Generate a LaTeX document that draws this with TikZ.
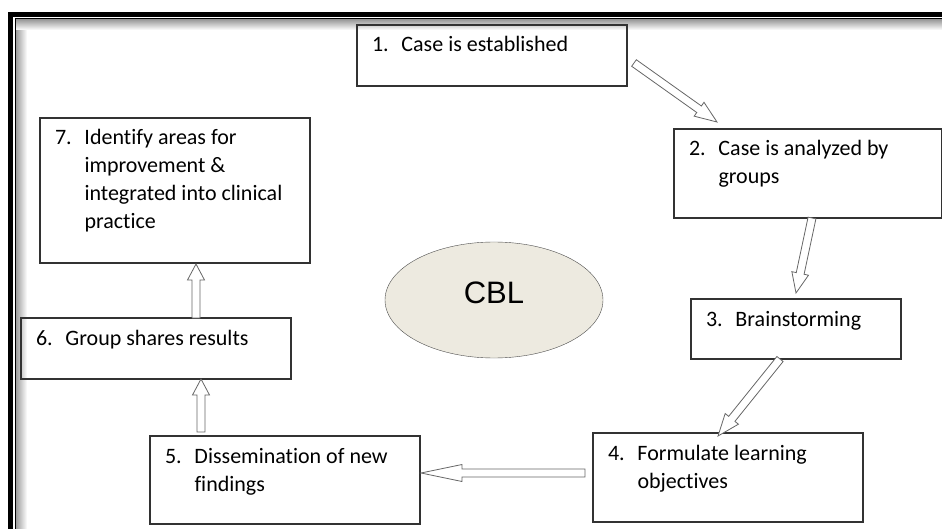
\documentclass[tikz,border=0pt]{standalone}
\usepackage{fontspec}
\setmainfont[Ligatures=NoCommon]{Carlito}
\newfontfamily\cblfont{Liberation Sans}
\usetikzlibrary{shapes.geometric,calc,positioning}
\definecolor{cblfill}{RGB}{237,234,224}
\definecolor{cblline}{RGB}{50,50,50}

% box text: width, height, number, lines
\newcommand{\stepbox}[4]{\parbox[c][#2][t]{#1}{\fontsize{22}{28}\selectfont
  \hangindent=44.5pt\hangafter=1\noindent\rule{0pt}{27pt}\hspace*{15pt}\makebox[29.5pt][l]{#3}#4}}

% hollow block arrow: [head length] from, to
\newcommand{\blockarrow}[3][18pt]{%
  \coordinate (ha) at ($(#3)!#1!(#2)$);
  \draw[hollow] ($(#2)!4pt!90:(#3)$) -- ($(ha)!4pt!90:(#3)$) -- ($(ha)!8.5pt!90:(#3)$)
    -- (#3) -- ($(ha)!8.5pt!-90:(#3)$) -- ($(ha)!4pt!-90:(#3)$) -- ($(#2)!4pt!-90:(#3)$) -- cycle;}

\begin{document}
\begin{tikzpicture}[
    x=1pt, y=1pt,
    stepnode/.style={draw=cblline, line width=1.1pt, inner sep=0pt, outer sep=0pt, anchor=north west},
    hollow/.style={draw=black!60, line width=0.8pt, fill=white, line join=miter}
]
    \useasboundingbox (0,0) rectangle (942,-529);

    % Frame
    \shade[left color=black!40, right color=white] (15.5,-19.5) rectangle (27,-529);
    \shade[top color=black!40, bottom color=white] (15.5,-19.5) rectangle (942,-30);
    \draw[line width=5pt] (10.5,-529) -- (10.5,-14.5) -- (942,-14.5);
    \draw[line width=1pt] (15,-529) -- (15,-19) -- (942,-19);

    % Central node
    \node[ellipse, draw=black!70, fill=cblfill, minimum width=218pt, minimum height=116pt,
          inner sep=0pt, text depth=14pt, font=\cblfont\fontsize{31}{31}\selectfont] (cbl) at (494,-300) {CBL};

    % Steps
    \node[stepnode] (established) at (357,-25) {\stepbox{270pt}{61pt}{1.}{Case is established}};
    \node[stepnode] (analyzed) at (674,-129) {\stepbox{268pt}{89pt}{2.}{Case is analyzed by\\groups}};
    \node[stepnode] (brainstorm) at (691,-299) {\stepbox{210pt}{60pt}{3.}{Brainstorming}};
    \node[stepnode] (objectives) at (593,-433) {\stepbox{270pt}{89pt}{4.}{Formulate learning\\objectives}};
    \node[stepnode] (dissemination) at (150,-436) {\stepbox{270pt}{88pt}{5.}{Dissemination of new\\findings}};
    \node[stepnode] (shares) at (21,-318) {\stepbox{270pt}{61pt}{6.}{Group shares results}};
    \node[stepnode] (improve) at (40,-118) {\stepbox{270pt}{145pt}{7.}{Identify areas for\\improvement \&\\integrated into clinical\\practice}};

    % Arrow ends
    \coordinate (s1) at ($(established.east)+(7,-7.5)$);
    \coordinate (t1) at ($(analyzed.north west)+(43,7)$);
    \coordinate (s2) at ($(analyzed.south)+(4,0)$);
    \coordinate (t2) at ($(brainstorm.north)+(0,6)$);
    \coordinate (s3) at ($(brainstorm.south)+(-16,0)$);
    \coordinate (t3) at ($(objectives.north)+(-10,-3)$);
    \coordinate (s4) at ($(objectives.west)+(-8,4.5)$);
    \coordinate (t4) at ($(dissemination.east)+(1,7)$);
    \coordinate (s5) at ($(dissemination.north west)+(51,4)$);
    \coordinate (t5) at ($(shares.south)+(45,0)$);
    \coordinate (s6) at ($(shares.north)+(40,0)$);
    \coordinate (t6) at ($(improve.south)+(21,-1)$);

    % Arrows
    \blockarrow[22pt]{s1}{t1}
    \blockarrow[20pt]{s2}{t2}
    \blockarrow[22pt]{s3}{t3}
    \blockarrow[41pt]{s4}{t4}
    \blockarrow[16pt]{s5}{t5}
    \blockarrow[16pt]{s6}{t6}
\end{tikzpicture}
\end{document}
